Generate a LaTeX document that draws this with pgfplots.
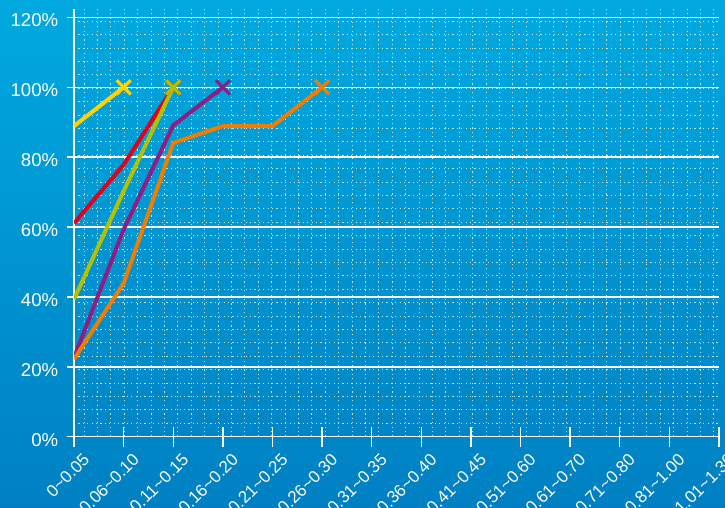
\documentclass[border=0pt]{standalone}
\usepackage{pgfplots}
\pgfplotsset{compat=1.18}
\usepackage{fontspec}
\setmainfont{Liberation Sans}

\definecolor{bgtop}{HTML}{00A9DF}
\definecolor{bgbot}{HTML}{0080C3}
\definecolor{cyellow}{HTML}{FFD200}
\definecolor{cred}{HTML}{E3001B}
\definecolor{colive}{HTML}{B4C100}
\definecolor{cpurple}{HTML}{901D84}
\definecolor{corange}{HTML}{F07C00}

\newcommand{\tl}{\textasciitilde}

\begin{document}
\begin{tikzpicture}[x=1pt,y=1pt]
\useasboundingbox (0,0) rectangle (725,508);
\shade[top color=bgtop,bottom color=bgbot] (0,0) rectangle (725,508);
\begin{axis}[
    at={(74pt,71.3pt)}, anchor=south west,
    scale only axis,
    width=645pt, height=428pt,
    xmin=0, xmax=13,
    ymin=0, ymax=122.5,
    axis lines=left,
    axis line style={white, line width=1.4pt, -},
    xtick={0,...,13},
    xticklabels={0\tl0.05, 0.06\tl0.10, 0.11\tl0.15, 0.16\tl0.20, 0.21\tl0.25,
        0.26\tl0.30, 0.31\tl0.35, 0.36\tl0.40, 0.41\tl0.45, 0.51\tl0.60,
        0.61\tl0.70, 0.71\tl0.80, 0.81\tl1.00, 1.01\tl1.30},
    ytick={0,20,...,120},
    yticklabels={0\%,20\%,40\%,60\%,80\%,100\%,120\%},
    % dotted background texture, evenly spaced
    minor xtick={0.2016,0.4717,...,12.99},
    minor ytick={3.835,7.67,...,122},
    xtick align=center,
    ytick align=outside,
    xtick style={white, line width=1.4pt, /pgfplots/major tick length=20pt},
    ytick style={white, line width=1.4pt, /pgfplots/major tick length=7pt},
    minor tick length=0pt,
    xticklabel style={font=\fontsize{17}{19}\selectfont, white,
        xshift=8pt, yshift=-12pt, rotate=45, anchor=north east, inner sep=1pt},
    yticklabel style={font=\fontsize{18.6}{20}\selectfont, white, xshift=-8pt, yshift=-3pt},
    xmajorgrids=false, ymajorgrids=true,
    xminorgrids=true, yminorgrids=true,
    minor x grid style={white, opacity=0.75, line width=1pt, dash pattern=on 1.2pt off 3.2pt},
    minor y grid style={white, opacity=0.75, line width=1pt, dash pattern=on 1.2pt off 3.2pt},
    major y grid style={white, line width=1.4pt},
    every axis plot/.append style={line width=4pt, mark size=10pt},
  ]
  % Rot
  \addplot[cred, mark=x, mark indices={3}, mark options={line width=3.2pt}]
    coordinates {(0,61.1) (1,77.8) (2,100)};
  % Gelb
  \addplot[cyellow, mark=x, mark indices={2}, mark options={line width=3.2pt}]
    coordinates {(0,88.9) (1,100)};
  % Olivgruen
  \addplot[colive, mark=x, mark indices={3}, mark options={line width=3.2pt}]
    coordinates {(0,39.3) (1,70.3) (2,100)};
  % Lila
  \addplot[cpurple, mark=x, mark indices={4}, mark options={line width=3.2pt}]
    coordinates {(0,22.6) (1,59.3) (2,89.1) (3,100)};
  % Orange
  \addplot[corange, mark=x, mark indices={6}, mark options={line width=3.2pt}]
    coordinates {(0,22.2) (1,43.9) (2,84.1) (3,88.9) (4,88.9) (5,100)};
\end{axis}
\end{tikzpicture}
\end{document}
